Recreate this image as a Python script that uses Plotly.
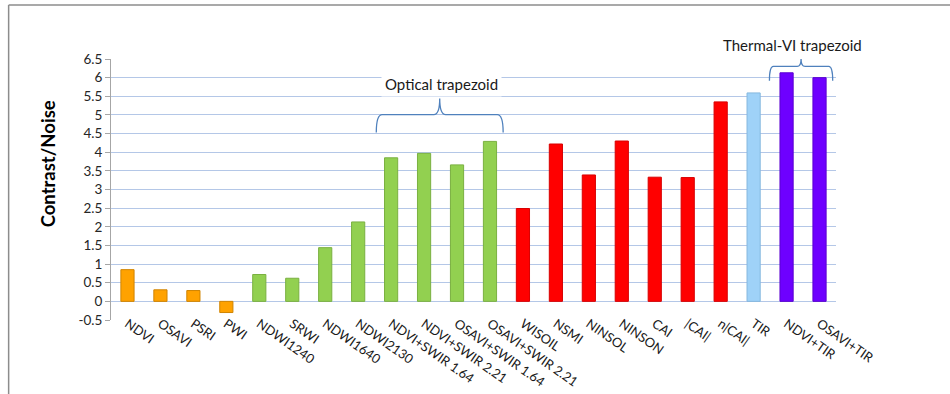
import plotly.graph_objects as go

categories = ["NDVI", "OSAVI", "PSRI", "PWI", "NDWI1240", "SRWI", "NDWI1640", "NDWI2130",
              "NDVI+SWIR 1.64", "NDVI+SWIR 2.21", "OSAVI+SWIR 1.64", "OSAVI+SWIR 2.21",
              "WISOIL", "NSMI", "NINSOL", "NINSON", "CAI", "|CAI|", "n|CAI|", "TIR",
              "NDVI+TIR", "OSAVI+TIR"]
values = [0.85, 0.31, 0.29, -0.30, 0.72, 0.62, 1.44, 2.13,
          3.85, 3.97, 3.66, 4.29,
          2.49, 4.22, 3.39, 4.30, 3.33, 3.32, 5.35, 5.59,
          6.13, 6.00]
groups = ["o"] * 4 + ["g"] * 8 + ["r"] * 7 + ["b"] + ["p"] * 2
fill = {"o": "#FFA200", "g": "#92D050", "r": "#FF0000", "b": "#9FD2F8", "p": "#6E00FF"}
edge = {"o": "#D08400", "g": "#7AB040", "r": "#D80000", "b": "#86B8DE", "p": "#5A00D0"}
yticks = [-0.5, 0, 0.5, 1, 1.5, 2, 2.5, 3, 3.5, 4, 4.5, 5, 5.5, 6, 6.5]
ytick_text = ["-0.5", "0", "0.5", "1", "1.5", "2", "2.5", "3", "3.5", "4", "4.5", "5", "5.5", "6", "6.5"]

FONT = "Lato, Calibri, Carlito, sans-serif"
xs = list(range(len(categories)))

fig = go.Figure()
fig.add_trace(go.Bar(
    x=xs, y=values, width=0.4,
    marker=dict(color=[fill[g] for g in groups],
                line=dict(color=[edge[g] for g in groups], width=1)),
    showlegend=False, hoverinfo="skip"))

def brace(x0, x1, ytip, yh, yend, dx=0.18):
    xc = (x0 + x1) / 2
    return (f"M {x0},{yend} Q {x0},{yh} {x0+dx},{yh} L {xc-dx},{yh} "
            f"Q {xc},{yh} {xc},{ytip} Q {xc},{yh} {xc+dx},{yh} "
            f"L {x1-dx},{yh} Q {x1},{yh} {x1},{yend}")

bcol = "#4F81BD"
fig.add_shape(type="path", xref="x", yref="y", path=brace(7.55, 11.4, 5.44, 5.01, 4.53),
              line=dict(color=bcol, width=1.3))
fig.add_shape(type="path", xref="x", yref="y", path=brace(19.48, 21.4, 6.5, 6.3, 5.92, dx=0.12),
              line=dict(color=bcol, width=1.3))

fig.add_annotation(x=9.53, y=5.82, xref="x", yref="y", text="Optical trapezoid", showarrow=False,
                   font=dict(family=FONT, size=15, color="#1a1a1a"), bgcolor="white", borderpad=3)
fig.add_annotation(x=20.18, y=(320 - 45) / 261.4, xref="x", yref="paper", text="Thermal-VI trapezoid",
                   showarrow=False, xanchor="center", yanchor="middle",
                   font=dict(family=FONT, size=15, color="#1a1a1a"))
fig.add_annotation(x=(47 - 110.5) / 726, y=(320 - 163.5) / 261.4, xref="paper", yref="paper",
                   text="<b>Contrast/Noise</b>", textangle=-90, showarrow=False,
                   xanchor="center", yanchor="middle",
                   font=dict(family=FONT, size=18.5, color="#000000"))

# outer frame (left and top)
fx = (8 - 110.5) / 726
fy = (320 - 4.5) / 261.4
fig.add_shape(type="line", xref="paper", yref="paper", x0=fx, x1=fx, y0=-0.3, y1=fy,
              line=dict(color="#8C8C8C", width=1.5))
fig.add_shape(type="line", xref="paper", yref="paper", x0=fx, x1=1.16, y0=fy, y1=fy,
              line=dict(color="#8C8C8C", width=1.5))

fig.update_layout(
    width=950, height=394,
    margin=dict(l=110.5, r=113.5, t=58.6, b=74, pad=0),
    paper_bgcolor="white", plot_bgcolor="white",
    bargap=0.6,
    font=dict(family=FONT, size=12, color="#262626"),
    xaxis=dict(tickmode="array", tickvals=xs, ticktext=categories, tickangle=35,
               range=[-0.5, len(categories) - 0.5], showgrid=False, zeroline=False,
               showline=False, ticks="", automargin=False, ticklabelstandoff=-7,
               tickfont=dict(size=13, color="#1a1a1a")),
    yaxis=dict(range=[-0.5, 6.5], tickmode="array", tickvals=yticks, ticktext=ytick_text,
               showgrid=True, gridcolor="#B4C7E7", gridwidth=1, zeroline=False,
               showline=True, linecolor="#A6A6A6", linewidth=1, automargin=False,
               ticks="outside", ticklen=5, tickcolor="#A6A6A6",
               tickfont=dict(size=13.5, color="#262626")),
)

fig.write_html("out.html", config={"displayModeBar": False},
               post_script="document.body.style.margin='0';")
